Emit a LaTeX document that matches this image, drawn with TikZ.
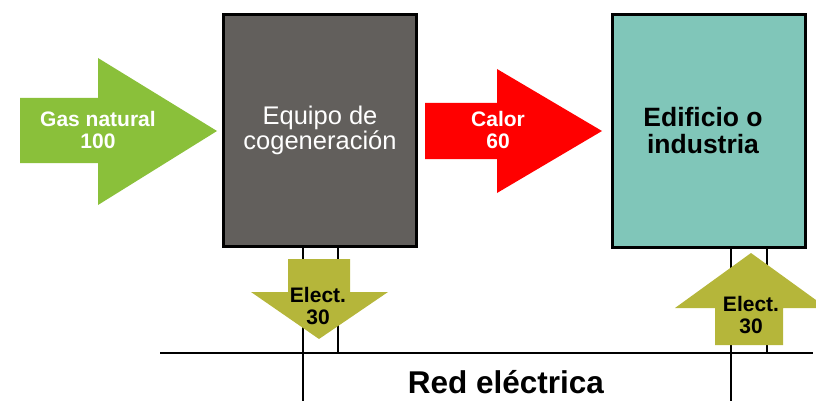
\documentclass[tikz,border=0pt]{standalone}
\usepackage{fontspec}
\setmainfont{Liberation Sans}
\usepackage{tikz}
\usetikzlibrary{positioning}
\definecolor{gasgreen}{RGB}{138,192,58}
\definecolor{cogengray}{RGB}{98,95,92}
\definecolor{heatred}{RGB}{255,0,0}
\definecolor{bldteal}{RGB}{128,198,185}
\definecolor{elecolive}{RGB}{181,182,58}

\begin{document}
\begin{tikzpicture}[x=1pt, y=-1pt,
  unit/.style={draw, line width=3pt, minimum width=193pt, minimum height=232pt, align=center, inner sep=0pt},
  lbl/.style={align=center, font=\bfseries\fontsize{21}{22}\selectfont, inner sep=0pt},
  wire/.style={line width=2.5pt}
]
\useasboundingbox (0,0) rectangle (816,401);
\node[unit, fill=cogengray, text=white, font=\fontsize{25.5}{23.5}\selectfont] (cogen) at (320,130.5) {Equipo de\\cogeneración};
\node[unit, fill=bldteal] (edif) at (709,131) {};
\node[align=center, inner sep=0pt, font=\bfseries\fontsize{26.5}{27}\selectfont] (edif-t) at ([xshift=-6]edif.center) {Edificio o\\industria};
\coordinate (red-l) at (160,353);
\coordinate (red-r) at (813,353);
\coordinate (b1) at (303,401);
\coordinate (j1) at (338,353);
\coordinate (b2) at (731,401);
\coordinate (j2) at (767,353);
\draw[wire] (red-l) -- (red-r);
\draw[wire] (cogen.south -| b1) -- (b1);
\draw[wire] (cogen.south -| j1) -- (j1);
\draw[wire] (edif.south -| b2) -- (b2);
\draw[wire] (edif.south -| j2) -- (j2);
\fill[gasgreen] (20,98) -- (98,98) -- (98,58) -- (217,131) -- (98,205) -- (98,163) -- (20,163) -- cycle;
\fill[heatred] (425,103) -- (497,103) -- (497,69) -- (602,131) -- (497,193) -- (497,159) -- (425,159) -- cycle;
\fill[elecolive] (288,259) -- (350,259) -- (350,292) -- (388,292) -- (319,339) -- (251,292) -- (288,292) -- cycle;
\fill[elecolive] (715,345) -- (715,308) -- (675,308) -- (751,253) -- (827,308) -- (783,308) -- (783,345) -- cycle;
\node[lbl, text=white] (gas) at (98,130) {Gas natural\\100};
\node[lbl, text=white] (calor) at (498,130) {Calor\\60};
\node[lbl] (elec1) at (318,306) {Elect.\\30};
\node[lbl] (elec2) at (751,315) {Elect.\\30};
\node[font=\bfseries\fontsize{31.5}{33}\selectfont, inner sep=0pt] (red) at (506,382) {Red eléctrica};
\end{tikzpicture}
\end{document}
